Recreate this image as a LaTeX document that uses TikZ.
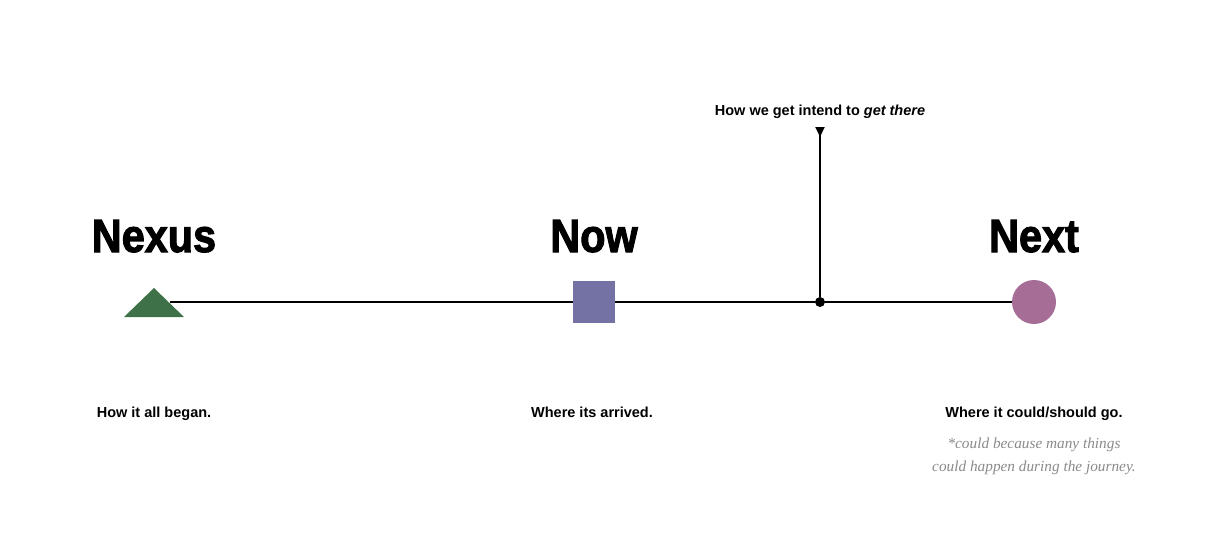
\documentclass[tikz,border=0pt]{standalone}
\usepackage{fontspec}
\usepackage{graphicx}
\setmainfont{Liberation Sans}
\newfontfamily\notefont{Liberation Serif}
\newfontfamily\heavyfont[FakeBold=2.4]{Liberation Sans Bold}
\newcommand{\ttl}[1]{\scalebox{0.89}[1]{#1}}
\usetikzlibrary{arrows.meta}
\definecolor{tri}{HTML}{3F7148}
\definecolor{sq}{HTML}{7472A5}
\definecolor{circ}{HTML}{A66E97}
\definecolor{note}{HTML}{8A8A8A}
\begin{document}
\begin{tikzpicture}[x=1pt,y=-1pt,
  title/.style={font=\heavyfont\fontsize{46.5}{48}\selectfont, anchor=base},
  sub/.style={font=\fontsize{14.5}{16}\selectfont\bfseries, anchor=base},
  axis/.style={line width=2pt},
  note/.style={font=\notefont\itshape\fontsize{15.3}{23}\selectfont, text=note, anchor=base},
]
\useasboundingbox (0,0) rectangle (1228,554);
% markers
\coordinate (nexusr) at (170,302);
\node[fill=sq, minimum size=42pt, inner sep=0pt] (nowm) at (594,302) {};
\node[fill=circ, circle, minimum size=44pt, inner sep=0pt] (nextm) at (1034,302) {};
\node[fill=black, circle, minimum size=10pt, inner sep=0pt] (dot) at (820,302) {};
\coordinate (top) at (820,127);
% lines
\draw[axis] (nexusr) -- (nowm.west);
\draw[axis] (nowm.east) -- (dot);
\draw[axis] (dot) -- (nextm.west);
\draw[axis, -{Triangle[reversed, width=9pt, length=10pt]}] (dot) -- (top);
\fill[tri] (124,317) -- (154,288) -- (184,317) -- cycle;
% titles
\node[title] (nexus) at (154,252) {\ttl{Nexus}};
\node[title] (now) at (594,252) {\ttl{Now}};
\node[title] (next) at (1034,252) {\ttl{Next}};
% labels
\node[sub] (l1) at (154,417) {How it all began.};
\node[sub] (l2) at (592,417) {Where its arrived.};
\node[sub] (l3) at (1034,417) {Where it could/should go.};
\node[sub] (l4) at (820,115) {How we get intend to \textit{get there}};
\node[note] (n1) at (1034,448) {*could because many things};
\node[note] (n2) at (1034,471) {could happen during the journey.};
\end{tikzpicture}
\end{document}
